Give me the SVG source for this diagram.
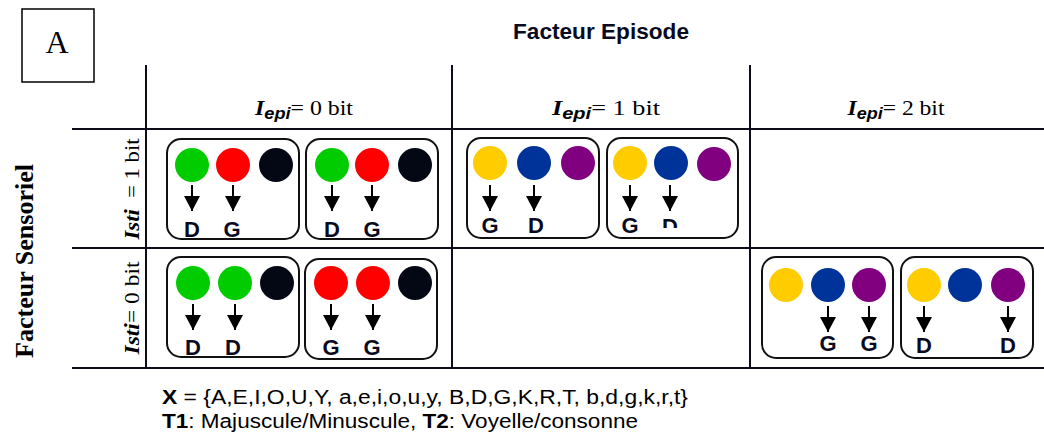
<svg xmlns="http://www.w3.org/2000/svg" width="1044" height="436" viewBox="0 0 1044 436">
<style>
.grid{stroke:#0d0d1a;stroke-width:2;fill:none}
.box{fill:none;stroke:#111;stroke-width:2}
.arr{stroke:#000;stroke-width:2;marker-end:url(#ah)}
.lbl{font-family:"Liberation Sans",Arial,sans-serif;font-weight:bold;font-size:22px;fill:#0a0a1e;text-anchor:middle}
.ser{font-family:"Liberation Serif","Times New Roman",serif;fill:#000}
.hdr{font-family:"Liberation Serif","Times New Roman",serif;font-size:21px;fill:#000;text-anchor:middle}
.bi{font-weight:bold;font-style:italic}
.sub{font-family:"Liberation Sans",Arial,sans-serif;font-weight:bold;font-style:italic;font-size:16px}
.sans{font-family:"Liberation Sans",Arial,sans-serif;font-size:20px;fill:#000}
.g{fill:#00cc00}.r{fill:#ff0000}.k{fill:#030814}.y{fill:#ffcc00}.b{fill:#003399}.p{fill:#800080}
</style>
<defs>
<marker id="ah" markerUnits="userSpaceOnUse" markerWidth="15" markerHeight="16" viewBox="0 0 15 16" refX="15" refY="8" orient="auto">
<path d="M0,0 L15,8 L0,16 z" fill="#000"/>
</marker>
<clipPath id="clipD"><rect x="655" y="200" width="30" height="28"/></clipPath>
</defs>

<g id="label-A">
<rect x="22" y="9" width="72" height="73" fill="none" stroke="#000" stroke-width="1.5"/>
<text x="57" y="53" class="ser" font-size="32" text-anchor="middle">A</text>
</g>

<g id="titles">
<text x="601" y="39" font-family="'Liberation Sans',Arial,sans-serif" font-weight="bold" font-size="22" text-anchor="middle" fill="#0a0a1e" textLength="176" lengthAdjust="spacingAndGlyphs">Facteur Episode</text>
<text transform="translate(33,261) rotate(-90)" class="ser" font-weight="bold" font-size="26" text-anchor="middle" textLength="194" lengthAdjust="spacingAndGlyphs">Facteur Sensoriel</text>
</g>

<g id="grid" class="grid">
<line x1="146" y1="65" x2="146" y2="368"/>
<line x1="452" y1="65" x2="452" y2="368"/>
<line x1="750" y1="65" x2="750" y2="368"/>
<line x1="72" y1="129" x2="1044" y2="129"/>
<line x1="72" y1="248" x2="1044" y2="248"/>
<line x1="72" y1="368" x2="1044" y2="368"/>
</g>

<g id="col-headers">
<text x="304" y="115" class="hdr" textLength="98" lengthAdjust="spacingAndGlyphs"><tspan class="bi">I</tspan><tspan class="sub" dy="4">epi</tspan><tspan dy="-4">= 0 bit</tspan></text>
<text x="606" y="115" class="hdr" textLength="108" lengthAdjust="spacingAndGlyphs"><tspan class="bi">I</tspan><tspan class="sub" dy="4">epi</tspan><tspan dy="-4">= 1 bit</tspan></text>
<text x="896" y="115" class="hdr" textLength="97" lengthAdjust="spacingAndGlyphs"><tspan class="bi">I</tspan><tspan class="sub" dy="4">epi</tspan><tspan dy="-4">= 2 bit</tspan></text>
</g>

<g id="row-headers">
<text transform="translate(139,189) rotate(-90)" class="hdr" textLength="101" lengthAdjust="spacingAndGlyphs"><tspan class="bi">Isti</tspan><tspan xml:space="preserve">  = 1 bit</tspan></text>
<text transform="translate(139,308) rotate(-90)" class="hdr" textLength="93" lengthAdjust="spacingAndGlyphs"><tspan class="bi">Isti</tspan><tspan>= 0 bit</tspan></text>
</g>

<g id="r1c1a">
<rect x="167" y="139" width="132" height="100" rx="14" class="box"/>
<circle cx="192" cy="165" r="17" class="g"/><circle cx="233" cy="165" r="17" class="r"/><circle cx="276" cy="165" r="17" class="k"/>
<text x="192" y="237" class="lbl">D</text><text x="232" y="237" class="lbl">G</text>
</g>
<g id="r1c1b">
<rect x="306" y="139" width="132" height="100" rx="14" class="box"/>
<circle cx="332" cy="165" r="17" class="g"/><circle cx="372" cy="165" r="17" class="r"/><circle cx="415" cy="165" r="17" class="k"/>
<text x="332" y="237" class="lbl">D</text><text x="372" y="237" class="lbl">G</text>
</g>
<g id="r1c2a">
<rect x="467" y="138" width="132" height="100" rx="14" class="box"/>
<circle cx="490" cy="163" r="17" class="y"/><circle cx="534" cy="163" r="17" class="b"/><circle cx="578" cy="163" r="17" class="p"/>
<text x="490" y="233" class="lbl">G</text><text x="536" y="233" class="lbl">D</text>
</g>
<g id="r1c2b">
<rect x="607" y="138" width="131" height="100" rx="14" class="box"/>
<circle cx="630" cy="163" r="17" class="y"/><circle cx="671" cy="163" r="17" class="b"/><circle cx="714" cy="164" r="17" class="p"/>
<text x="630" y="233" class="lbl">G</text><text x="670" y="234" class="lbl" clip-path="url(#clipD)">D</text>
</g>
<g id="r2c1a">
<rect x="167" y="257" width="132" height="100" rx="14" class="box"/>
<circle cx="193" cy="283" r="17" class="g"/><circle cx="235" cy="283" r="17" class="g"/><circle cx="277" cy="283" r="17" class="k"/>
<text x="193" y="355" class="lbl">D</text><text x="233" y="355" class="lbl">D</text>
</g>
<g id="r2c1b">
<rect x="305" y="259" width="132" height="100" rx="14" class="box"/>
<circle cx="331" cy="283" r="17" class="r"/><circle cx="373" cy="283" r="17" class="r"/><circle cx="415" cy="283" r="17" class="k"/>
<text x="331" y="355" class="lbl">G</text><text x="372" y="355" class="lbl">G</text>
</g>
<g id="r2c3a">
<rect x="762" y="257" width="131" height="101" rx="14" class="box"/>
<circle cx="786" cy="285" r="17" class="y"/><circle cx="828" cy="285" r="17" class="b"/><circle cx="869" cy="285" r="17" class="p"/>
<text x="828" y="351" class="lbl">G</text><text x="869" y="351" class="lbl">G</text>
</g>
<g id="r2c3b">
<rect x="901" y="257" width="132" height="101" rx="14" class="box"/>
<circle cx="924" cy="285" r="17" class="y"/><circle cx="965" cy="285" r="17" class="b"/><circle cx="1008" cy="285" r="17" class="p"/>
<text x="924" y="353" class="lbl">D</text><text x="1008" y="353" class="lbl">D</text>
</g>

<g id="connectors">
<line x1="192" y1="185" x2="192" y2="211" class="arr"/>
<line x1="233" y1="185" x2="233" y2="211" class="arr"/>
<line x1="332" y1="185" x2="332" y2="211" class="arr"/>
<line x1="372" y1="185" x2="372" y2="211" class="arr"/>
<line x1="490" y1="185" x2="490" y2="211" class="arr"/>
<line x1="534" y1="185" x2="534" y2="211" class="arr"/>
<line x1="630" y1="185" x2="630" y2="211" class="arr"/>
<line x1="670" y1="185" x2="670" y2="211" class="arr"/>
<line x1="193" y1="304" x2="193" y2="330" class="arr"/>
<line x1="235" y1="304" x2="235" y2="330" class="arr"/>
<line x1="331" y1="304" x2="331" y2="330" class="arr"/>
<line x1="373" y1="304" x2="373" y2="330" class="arr"/>
<line x1="828" y1="306" x2="828" y2="332" class="arr"/>
<line x1="869" y1="306" x2="869" y2="332" class="arr"/>
<line x1="924" y1="306" x2="924" y2="332" class="arr"/>
<line x1="1008" y1="306" x2="1008" y2="332" class="arr"/>
</g>

<g id="legend">
<text x="162" y="404" class="sans" textLength="526" lengthAdjust="spacingAndGlyphs"><tspan font-weight="bold">X</tspan> = {A,E,I,O,U,Y, a,e,i,o,u,y, B,D,G,K,R,T, b,d,g,k,r,t}</text>
<text x="162" y="428" class="sans" textLength="476" lengthAdjust="spacingAndGlyphs"><tspan font-weight="bold">T1</tspan>: Majuscule/Minuscule, <tspan font-weight="bold">T2</tspan>: Voyelle/consonne</text>
</g>
</svg>
